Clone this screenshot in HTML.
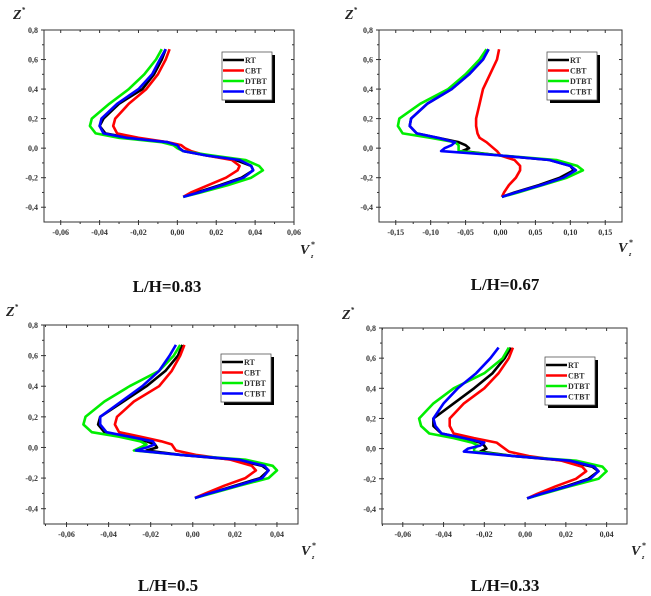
<!DOCTYPE html>
<html><head><meta charset="utf-8"><style>
html,body{margin:0;padding:0;background:#fff;width:651px;height:596px;overflow:hidden}
svg{display:block}
text{font-family:"Liberation Serif",serif}
</style></head><body>
<svg id="chart" width="651" height="596" viewBox="0 0 651 596"></svg>
<script>
const zValues=[0.67,0.6,0.5,0.4,0.3,0.2,0.15,0.1,0.07,0.04,0.02,0,-0.02,-0.05,-0.08,-0.12,-0.15,-0.2,-0.25,-0.3,-0.33];
const seriesNames=["RT","CBT","DTBT","CTBT"];
const seriesColors=["#000","#f00","#0e0","#00f"];
const yTicks=[0.8,0.6,0.4,0.2,0,-0.2,-0.4];
const yTickLabels=["0,8","0,6","0,4","0,2","0,0","-0,2","-0,4"];
// panel 1 L/H=0.83
const p1Ticks=[-0.06,-0.04,-0.02,0,0.02,0.04,0.06];
const p1TickLabels=["-0,06","-0,04","-0,02","0,00","0,02","0,04","0,06"];
const p1RT=[-0.006,-0.008,-0.012,-0.018,-0.03,-0.038,-0.040,-0.037,-0.025,-0.005,0,0.001,0.003,0.015,0.030,0.038,0.039,0.033,0.022,0.010,0.003];
const p1CBT=[-0.004,-0.006,-0.01,-0.016,-0.025,-0.032,-0.033,-0.031,-0.02,-0.005,0.002,0.004,0.007,0.015,0.028,0.032,0.031,0.025,0.016,0.007,0.003];
const p1DTBT=[-0.008,-0.011,-0.017,-0.025,-0.035,-0.044,-0.045,-0.042,-0.03,-0.008,-0.002,0,0.003,0.018,0.035,0.042,0.044,0.038,0.026,0.012,0.003];
const p1CTBT=[-0.006,-0.009,-0.013,-0.020,-0.031,-0.039,-0.040,-0.038,-0.026,-0.005,0,0.001,0.003,0.015,0.032,0.038,0.039,0.034,0.023,0.011,0.003];
// panel 2 L/H=0.67
const p2Ticks=[-0.15,-0.10,-0.05,0,0.05,0.10,0.15];
const p2TickLabels=["-0,15","-0,10","-0,05","0,00","0,05","0,10","0,15"];
const p2RT=[-0.017,-0.025,-0.045,-0.07,-0.105,-0.128,-0.13,-0.12,-0.09,-0.06,-0.05,-0.045,-0.055,0.0,0.07,0.1,0.105,0.085,0.055,0.02,0.002];
const p2CBT=[-0.002,-0.005,-0.015,-0.025,-0.03,-0.035,-0.035,-0.033,-0.03,-0.02,-0.015,-0.01,-0.005,0.0,0.02,0.028,0.028,0.022,0.012,0.005,0.002];
const p2DTBT=[-0.02,-0.03,-0.05,-0.075,-0.115,-0.145,-0.147,-0.14,-0.1,-0.065,-0.06,-0.06,-0.06,0.0,0.08,0.11,0.118,0.095,0.06,0.025,0.002];
const p2CTBT=[-0.017,-0.025,-0.045,-0.07,-0.105,-0.128,-0.13,-0.12,-0.09,-0.065,-0.07,-0.08,-0.085,0.0,0.07,0.1,0.108,0.09,0.058,0.022,0.002];
// panel 3 L/H=0.5
const p3Ticks=[-0.06,-0.04,-0.02,0,0.02,0.04];
const p3TickLabels=["-0,06","-0,04","-0,02","0,00","0,02","0,04"];
const p3RT=[-0.005,-0.007,-0.013,-0.022,-0.033,-0.044,-0.045,-0.042,-0.032,-0.022,-0.018,-0.017,-0.022,-0.005,0.02,0.033,0.036,0.032,0.02,0.008,0.001];
const p3CBT=[-0.004,-0.006,-0.01,-0.016,-0.028,-0.036,-0.037,-0.035,-0.025,-0.015,-0.01,-0.009,-0.008,0.002,0.018,0.028,0.030,0.025,0.015,0.006,0.001];
const p3DTBT=[-0.006,-0.009,-0.016,-0.03,-0.042,-0.051,-0.052,-0.048,-0.035,-0.025,-0.022,-0.025,-0.028,-0.005,0.025,0.038,0.040,0.036,0.022,0.009,0.001];
const p3CTBT=[-0.008,-0.011,-0.016,-0.024,-0.034,-0.044,-0.044,-0.041,-0.03,-0.019,-0.018,-0.022,-0.027,-0.005,0.022,0.034,0.036,0.033,0.021,0.008,0.001];
// panel 4 L/H=0.33
const p4Ticks=[-0.06,-0.04,-0.02,0,0.02,0.04];
const p4TickLabels=["-0,06","-0,04","-0,02","0,00","0,02","0,04"];
const p4RT=[-0.007,-0.01,-0.016,-0.025,-0.035,-0.045,-0.045,-0.041,-0.03,-0.022,-0.02,-0.019,-0.022,-0.005,0.02,0.033,0.036,0.031,0.02,0.008,0.001];
const p4CBT=[-0.006,-0.008,-0.013,-0.02,-0.03,-0.037,-0.037,-0.035,-0.025,-0.014,-0.012,-0.01,-0.008,0.002,0.018,0.028,0.030,0.025,0.015,0.006,0.001];
const p4DTBT=[-0.008,-0.011,-0.02,-0.035,-0.045,-0.052,-0.051,-0.047,-0.035,-0.026,-0.023,-0.025,-0.025,-0.005,0.025,0.038,0.040,0.036,0.022,0.009,0.001];
const p4CTBT=[-0.013,-0.017,-0.024,-0.033,-0.040,-0.045,-0.044,-0.041,-0.03,-0.02,-0.022,-0.028,-0.03,-0.005,0.022,0.034,0.036,0.032,0.021,0.008,0.001];

const NS="http://www.w3.org/2000/svg";
const svg=document.getElementById('chart');
function mk(tag,attrs,parent){const e=document.createElementNS(NS,tag);for(const k in attrs)e.setAttribute(k,attrs[k]);(parent||svg).appendChild(e);return e;}

const panels=[
 {name:"lh-083",title:"L/H=0.83",L:44,R:294,T:30,B:222,xmin:-0.0686,xmax:0.06,ymax:0.8,ymin:-0.5,ticks:p1Ticks,labels:p1TickLabels,minor:0.01,series:[p1RT,p1CBT,p1DTBT,p1CTBT],leg:[222,52],zx:13,zy:19,vx:300,vy:254,tx:167,ty:292},
 {name:"lh-067",title:"L/H=0.67",L:379,R:622,T:30,B:222,xmin:-0.174,xmax:0.174,ymax:0.8,ymin:-0.5,ticks:p2Ticks,labels:p2TickLabels,minor:0.025,series:[p2RT,p2CBT,p2DTBT,p2CTBT],leg:[547,52],zx:345,zy:19,vx:618,vy:252,tx:505,ty:290},
 {name:"lh-05",title:"L/H=0.5",L:44,R:298,T:325,B:524,xmin:-0.0707,xmax:0.05,ymax:0.8,ymin:-0.5,ticks:p3Ticks,labels:p3TickLabels,minor:0.01,series:[p3RT,p3CBT,p3DTBT,p3CTBT],leg:[221,354],zx:6,zy:316,vx:301,vy:555,tx:168,ty:591},
 {name:"lh-033",title:"L/H=0.33",L:382,R:627,T:328,B:524,xmin:-0.0702,xmax:0.05,ymax:0.8,ymin:-0.5,ticks:p4Ticks,labels:p4TickLabels,minor:0.01,series:[p4RT,p4CBT,p4DTBT,p4CTBT],leg:[545,357],zx:342,zy:319,vx:631,vy:555,tx:505,ty:591}
];

panels.forEach(p=>{
 const g=mk('g',{});
 
 
 const sx=v=>p.L+(v-p.xmin)/(p.xmax-p.xmin)*(p.R-p.L);
 const sy=v=>p.T+(p.ymax-v)/(p.ymax-p.ymin)*(p.B-p.T);
 const frame=mk('rect',{x:p.L,y:p.T,width:p.R-p.L,height:p.B-p.T,fill:'none',stroke:'#333','stroke-width':1},g);
 
 
 yTicks.forEach((t,i)=>{
  const y=sy(t);
  mk('line',{x1:p.L-3,x2:p.L+2,y1:y,y2:y,stroke:'#333'},g);
  mk('line',{x1:p.R-3,x2:p.R,y1:y,y2:y,stroke:'#333'},g);
  const ym=sy(t-0.1);
  if(t-0.1>p.ymin){mk('line',{x1:p.L-2,x2:p.L,y1:ym,y2:ym,stroke:'#333'},g);mk('line',{x1:p.R-2,x2:p.R,y1:ym,y2:ym,stroke:'#333'},g);}
  const tl=mk('text',{x:p.L-6,y:y+3,'font-size':8,'font-weight':'bold','text-anchor':'end',fill:'#333'},g);
  tl.textContent=yTickLabels[i];
  
  
 });
 p.ticks.forEach((t,i)=>{
  const x=sx(t);
  mk('line',{x1:x,x2:x,y1:p.B-2,y2:p.B+3,stroke:'#333'},g);
  mk('line',{x1:x,x2:x,y1:p.T,y2:p.T+3,stroke:'#333'},g);
  [t-p.minor].forEach(m=>{if(m>p.xmin){const xm=sx(m);mk('line',{x1:xm,x2:xm,y1:p.B,y2:p.B+2,stroke:'#333'},g);mk('line',{x1:xm,x2:xm,y1:p.T,y2:p.T+2,stroke:'#333'},g);}});
  const tl=mk('text',{x:x,y:p.B+13,'font-size':8,'font-weight':'bold','text-anchor':'middle',fill:'#333'},g);
  tl.textContent=p.labels[i];
  
  
 });
 p.series.forEach((arr,si)=>{
  const d=arr.map((v,i)=>(i?'L':'M')+sx(v).toFixed(1)+','+sy(zValues[i]).toFixed(1)).join(' ');
  const path=mk('path',{d:d,fill:'none',stroke:seriesColors[si],'stroke-width':2.6,'stroke-linejoin':'round'},g);
  
  
 });
 const lg=mk('g',{},g);
 
 
 const [lx,ly]=p.leg;
 mk('rect',{x:lx+3,y:ly+3,width:50,height:48,fill:'#000'},lg);
 mk('rect',{x:lx,y:ly,width:50,height:48,fill:'#fff',stroke:'#555','stroke-width':0.8},lg);
 seriesNames.forEach((n,i)=>{
  const yy=ly+8+i*10.5;
  mk('line',{x1:lx+1,x2:lx+22,y1:yy,y2:yy,stroke:seriesColors[i],'stroke-width':2.4},lg);
  const t=mk('text',{x:lx+23,y:yy+3,'font-size':8,'font-weight':'bold',fill:'#333'},lg);
  t.textContent=n;
  
  
 });
 const zt=mk('text',{x:p.zx,y:p.zy,'font-size':14,'font-weight':'bold','font-style':'italic',fill:'#222'},g);
 zt.innerHTML='Z<tspan font-size="7" dy="-7">*</tspan>';
 
 
 const vt=mk('text',{x:p.vx,y:p.vy,'font-size':14,'font-weight':'bold','font-style':'italic',fill:'#222'},g);
 vt.textContent='V';
 
 
 const vs=mk('text',{x:p.vx+11,y:p.vy+4,'font-size':6,'font-weight':'bold','font-style':'italic',fill:'#222'},g);
 vs.textContent='z';
 
 
 const va=mk('text',{x:p.vx+11,y:p.vy-7,'font-size':8,'font-weight':'bold',fill:'#222'},g);
 va.textContent='*';
 
 
 const tt=mk('text',{x:p.tx,y:p.ty,'font-size':17,'font-weight':'bold','text-anchor':'middle',fill:'#111'},g);
 tt.textContent=p.title;
 
 
});
</script>
</body></html>
